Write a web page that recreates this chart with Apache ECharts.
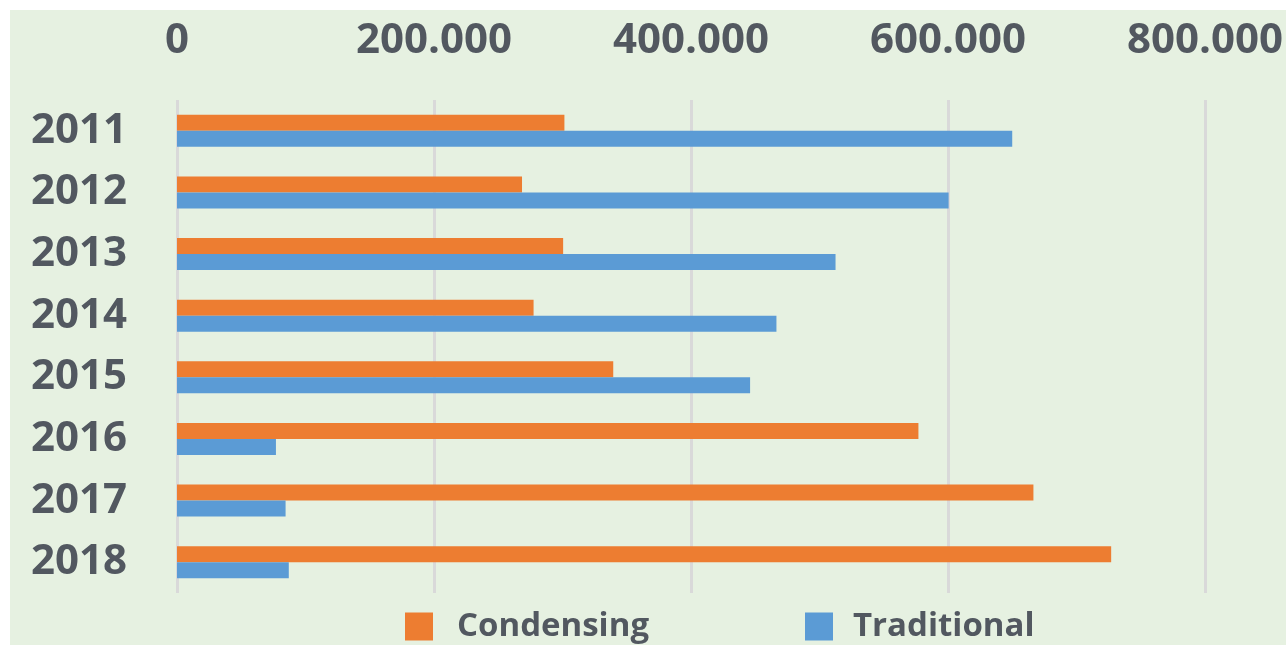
<!DOCTYPE html>
<html>
<head>
<meta charset="utf-8">
<script src="https://cdn.jsdelivr.net/npm/echarts@6/dist/echarts.min.js"></script>
<style>
  html, body { margin: 0; padding: 0; background: #ffffff; }
  #chart { position: absolute; left: 10px; top: 10px; width: 1276px; height: 635px; }
</style>
</head>
<body>
<div id="chart"></div>
<script>
const categories = ['2011', '2012', '2013', '2014', '2015', '2016', '2017', '2018'];
const condensing = [301500, 268500, 300500, 277500, 339500, 577000, 666500, 727000];
const traditional = [650000, 600500, 512500, 466500, 446000, 77000, 84500, 87000];
const seriesNames = ['Condensing', 'Traditional'];
const axisMax = 800000;
const axisStep = 200000;

const textColor = '#525860';
const fontFam = '"Open Sans", "DejaVu Sans", sans-serif';

const chart = echarts.init(document.getElementById('chart'));
chart.setOption({
  backgroundColor: '#e6f1e1',
  animation: false,
  grid: { left: 167, right: 77, top: 90, bottom: 52, containLabel: false },
  xAxis: {
    type: 'value',
    position: 'top',
    min: 0,
    max: axisMax,
    interval: axisStep,
    axisLine: { show: false },
    axisTick: { show: false },
    splitLine: { show: true, lineStyle: { color: '#d9d9d9', width: 3 } },
    axisLabel: {
      margin: 38,
      color: textColor,
      fontFamily: fontFam,
      fontWeight: 'bold',
      fontSize: 42,
      formatter: function (v) { return v === 0 ? '0' : (v / 1000).toFixed(0) + '.000'; }
    }
  },
  yAxis: {
    type: 'category',
    data: categories,
    inverse: true,
    axisLine: { show: false },
    axisTick: { show: false },
    splitLine: { show: false },
    axisLabel: {
      margin: 50,
      color: textColor,
      fontFamily: fontFam,
      fontWeight: 'bold',
      fontSize: 42
    }
  },
  legend: [
    {
      data: [seriesNames[0]],
      left: 395, top: 600, padding: 0,
      icon: 'rect', itemWidth: 28, itemHeight: 28,
      textStyle: { color: textColor, fontFamily: fontFam, fontWeight: 'bold', fontSize: 33, padding: [0, 0, 4, 19] }
    },
    {
      data: [seriesNames[1]],
      left: 795, top: 600, padding: 0,
      icon: 'rect', itemWidth: 28, itemHeight: 28,
      textStyle: { color: textColor, fontFamily: fontFam, fontWeight: 'bold', fontSize: 33, padding: [0, 0, 12, 15] }
    }
  ],
  series: [
    {
      name: seriesNames[0], type: 'bar', data: condensing,
      barWidth: 16, barGap: '0%',
      itemStyle: { color: '#ED7D31' }
    },
    {
      name: seriesNames[1], type: 'bar', data: traditional,
      barWidth: 16, barGap: '0%',
      itemStyle: { color: '#5B9BD5' }
    }
  ]
});
</script>
</body>
</html>
